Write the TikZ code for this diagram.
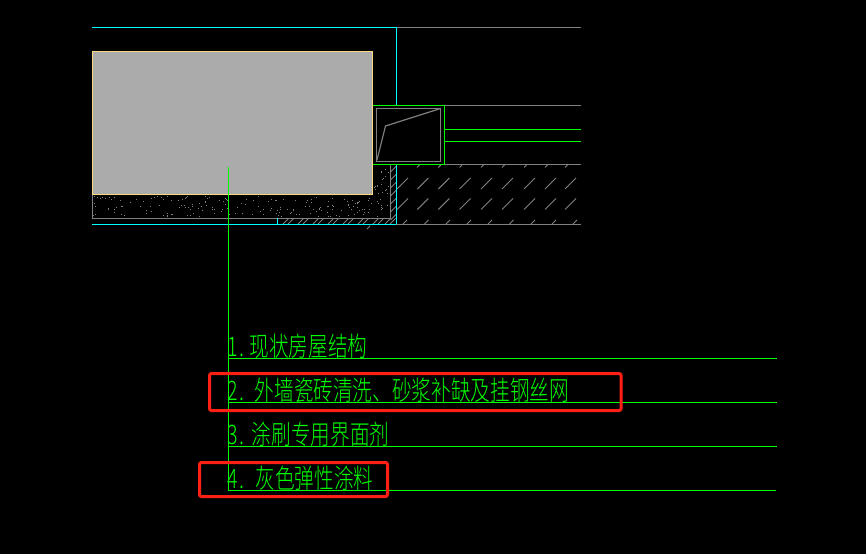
\documentclass[tikz,border=0pt]{standalone}
\usepackage{fontspec}
\newfontfamily\cjk{Noto Sans CJK SC Light}
\definecolor{cadgray}{HTML}{808080}
\definecolor{cadfill}{HTML}{ABABAB}
\definecolor{cadedge}{HTML}{FFD982}
\definecolor{cadcyan}{HTML}{00FFFF}
\definecolor{cadgreen}{HTML}{00FF00}
\definecolor{cadred}{HTML}{FF2015}
\newcommand{\cadtxt}[1]{\scalebox{.73}[1]{\fontsize{27}{27}\cjk #1}}
\tikzset{
  x=1bp,y=-1bp,
  grayline/.style={draw=cadgray,line width=1.2bp},
  cyanline/.style={draw=cadcyan,line width=1.2bp},
  greenline/.style={draw=cadgreen,line width=1.2bp},
  hatchline/.style={draw=cadgray,line width=1bp},
  redbox/.style={draw=cadred,line width=3bp,rounded corners=2bp},
  label/.style={inner sep=0pt,outer sep=0pt,anchor=base west,text=cadgreen},
}
\begin{document}
\begin{tikzpicture}
\fill[black] (0,0) rectangle (866,554);
\useasboundingbox (0,0) rectangle (866,554);
% stipple
\pgfmathsetseed{4711}
\foreach \i in {1,...,190}{
  \pgfmathsetmacro{\px}{int(93+rnd*295)}
  \pgfmathsetmacro{\py}{int(196+rnd*21)}
  \fill[cadgray] (\px,\py) rectangle +(1,1);
}
\foreach \i in {1,...,22}{
  \pgfmathsetmacro{\px}{int(374+rnd*15)}
  \pgfmathsetmacro{\py}{int(166+rnd*28)}
  \fill[cadgray] (\px,\py) rectangle +(1,1);
}
% hatching right block
\foreach \hx in {397,417.3,438.3,459.5,481,502,524,545,565}{
  \draw[hatchline] (\hx,189) -- +(11,-11);
  \draw[hatchline] (\hx,209.5) -- +(11,-11);
}
\foreach \hx in {417,438.3,459.5,481,502,524,545,565}{
  \draw[hatchline] (\hx,167.5) -- +(2.5,-2.5);
}
\foreach \hx in {403,424.5,446,467,488,509.5,531,552,573}{
  \draw[hatchline] (\hx,224) -- +(4,-4);
}
% hatching strip
\foreach \hy in {172,180,188,196,204,212,220}{
  \draw[hatchline] (390.5,\hy) -- +(5.5,-5.5);
}
% hatching under the base
\foreach \hx in {283,298,313,328,343,358,373,385}{
  \draw[hatchline] (\hx,224) -- +(5.5,-5.5);
  \draw[hatchline] (\hx+5,224) -- +(5.5,-5.5);
}
\draw[hatchline] (367,229) -- +(3,-3);
% base outline
\draw[grayline] (92.5,194) -- (92.5,218.5) -- (390.5,218.5) -- (390.5,165);
% slab
\draw[draw=cadedge,fill=cadfill,line width=1.2bp] (92.5,51.5) rectangle (372.5,194.5);
% long lines
\draw[cyanline] (92,27.5) -- (396,27.5);
\draw[grayline] (396,27.5) -- (581,27.5);
\draw[cyanline] (396.5,27.5) -- (396.5,105);
\draw[cyanline] (396.5,165) -- (396.5,224);
\draw[cyanline] (92,224.5) -- (396,224.5);
\draw[cyanline] (277.5,218.5) -- (277.5,224.5);
\draw[grayline] (396,224.5) -- (581,224.5);
% frame
\draw[grayline] (444,105.5) -- (581,105.5);
\draw[grayline] (444,164.5) -- (581,164.5);
\draw[greenline] (373,105.5) -- (444.5,105.5) -- (444.5,164.5) -- (373,164.5);
\draw[greenline] (445,129.5) -- (581,129.5);
\draw[greenline] (445,141.5) -- (581,141.5);
\draw[grayline] (376.5,108.5) rectangle (440.5,161.5);
\draw[grayline] (377,160) -- (385.5,126) -- (440.5,108.5);
% labels
\node[label] (t1) at (227,356) {\cadtxt{1\hspace{3pt}.\hspace{7pt}现状房屋结构}};
\node[label] (t2) at (227,400) {\cadtxt{2\hspace{3pt}.\hspace{14pt}外墙瓷砖清洗、砂浆补缺及挂钢丝网}};
\node[label] (t3) at (227,444) {\cadtxt{3\hspace{3pt}.\hspace{10pt}涂刷专用界面剂}};
\node[label] (t4) at (227,488) {\cadtxt{4\hspace{3pt}.\hspace{15pt}灰色弹性涂料}};
% leader and shelves
\coordinate (leadtop) at (228.5,167);
\coordinate (leadend) at (228.5,490.5);
\draw[greenline] (leadtop) -- (leadend);
\draw[greenline] (228,358.5) -- (777,358.5);
\draw[greenline] (228,402.5) -- (777,402.5);
\draw[greenline] (228,446.5) -- (777,446.5);
\draw[greenline] (228,490.5) -- (776,490.5);
% highlights
\draw[redbox] (209.5,373.5) rectangle (621,410.5);
\draw[redbox] (199.5,462.5) rectangle (387.5,496.5);
\end{tikzpicture}
\end{document}
